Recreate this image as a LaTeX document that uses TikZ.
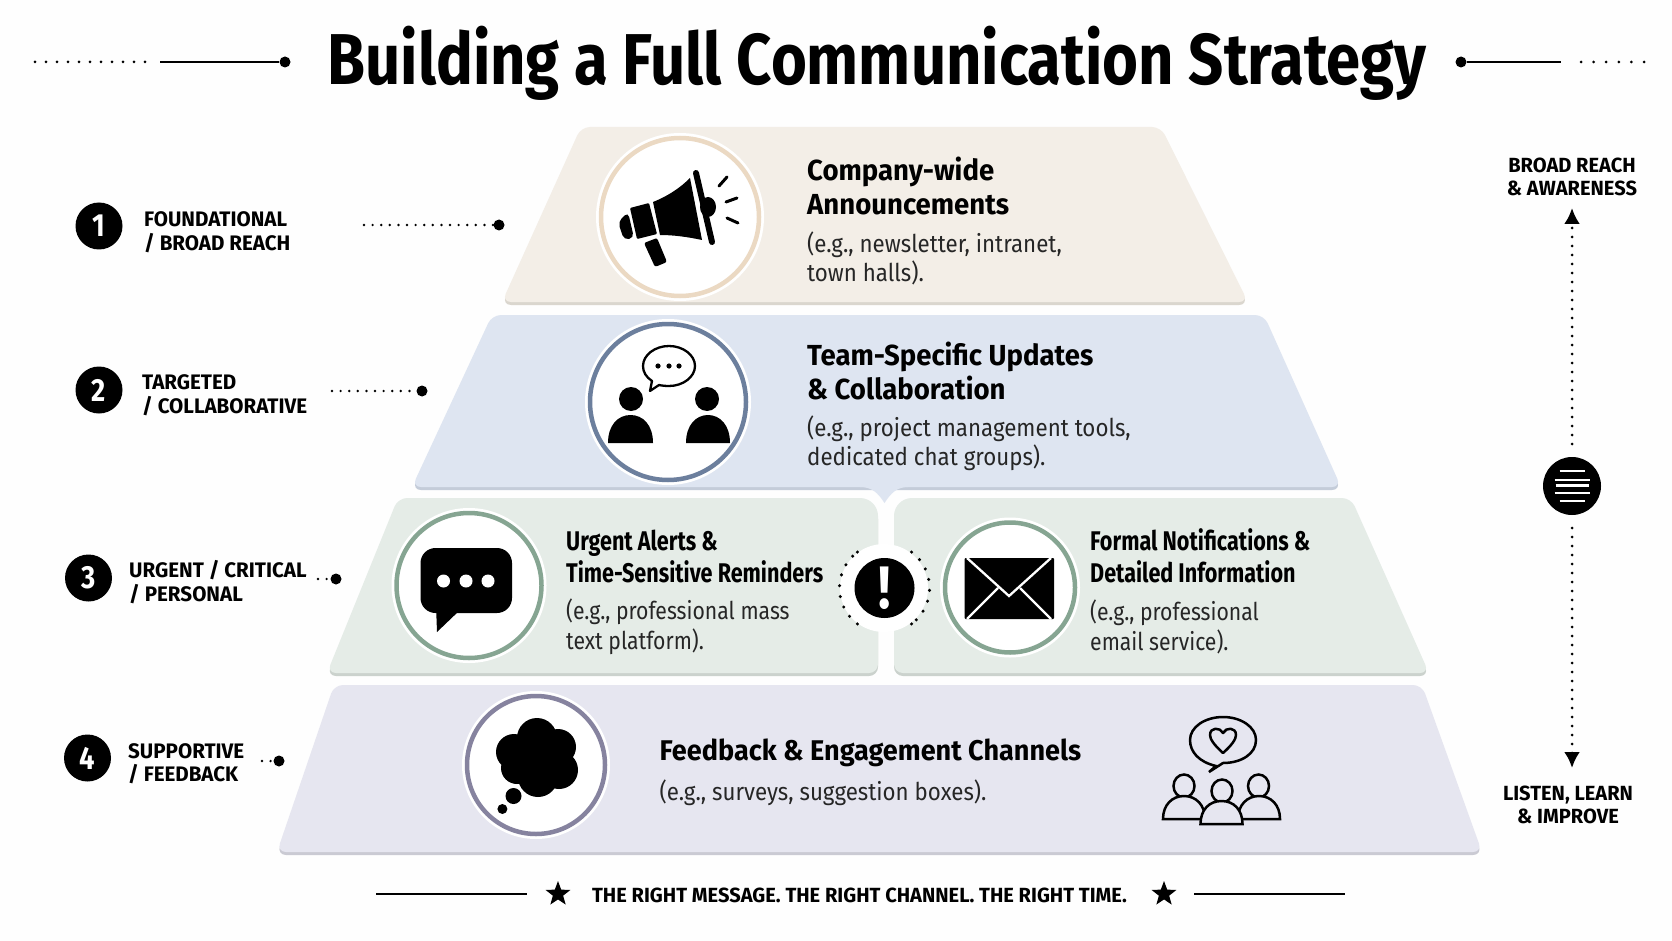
\documentclass[tikz,border=0pt]{standalone}
\usepackage{fontspec}
\setmainfont{Fira Sans}
\newfontfamily\titlefont[FakeStretch=0.855]{Fira Sans}
\newfontfamily\headfont[FakeStretch=0.95]{Fira Sans}
\newfontfamily\narrowfont[FakeStretch=0.80]{Fira Sans}
\newfontfamily\sidefont[FakeStretch=0.98]{Fira Sans}
\newfontfamily\bodyfont[FakeStretch=0.91]{Fira Sans}
\newfontfamily\bodyfontb[FakeStretch=0.865]{Fira Sans}
\usetikzlibrary{arrows.meta,shapes.geometric}
\definecolor{pagebg}{HTML}{FEFEFE}
\definecolor{tieronefill}{HTML}{F3EEE7}
\definecolor{tieroneedge}{HTML}{DAD6CE}
\definecolor{tieronering}{HTML}{EBD9C3}
\definecolor{tiertwofill}{HTML}{DEE5F1}
\definecolor{tiertwoedge}{HTML}{C4CCD9}
\definecolor{tiertworing}{HTML}{6C7F9D}
\definecolor{tierthreefill}{HTML}{E5ECE7}
\definecolor{tierthreeedge}{HTML}{CBD2CD}
\definecolor{tierthreering}{HTML}{86A592}
\definecolor{tierfourfill}{HTML}{E6E6F0}
\definecolor{tierfouredge}{HTML}{CACAD3}
\definecolor{tierfourring}{HTML}{86839F}
\tikzset{
  tier/.style={rounded corners=9pt,fill=#1fill,draw=none,preaction={draw=none,fill=#1edge,transform canvas={yshift=-3pt}}},
  iconring/.style 2 args={circle,inner sep=0pt,minimum size=#2,fill=white,draw=#1,line width=4.5pt,preaction={draw=white,line width=10pt}},
  numbadge/.style={circle,fill=black,text=white,inner sep=0pt,minimum size=47pt,font=\titlefont\bfseries\fontsize{32}{32}\selectfont},
  sidetext/.style={anchor=west,align=left,inner sep=0pt,font=\sidefont\fontsize{21}{23.5}\selectfont\bfseries},
  headtext/.style={anchor=west,align=left,inner sep=0pt,font=\headfont\fontsize{29}{34}\selectfont\bfseries},
  headthree/.style={anchor=west,align=left,inner sep=0pt,font=\narrowfont\fontsize{27}{32}\selectfont\bfseries},
  bodytext/.style={anchor=west,align=left,inner sep=0pt,text=black!85,font=\bodyfont\fontsize{24.5}{29.5}\selectfont},
  bodythree/.style={anchor=west,align=left,inner sep=0pt,text=black!85,font=\bodyfontb\fontsize{24.5}{29.5}\selectfont},
  axistext/.style={align=center,inner sep=0pt,font=\sidefont\fontsize{20.5}{22.5}\selectfont\bfseries},
  enddot/.style={circle,fill=black,inner sep=0pt,minimum size=11pt},
  leader/.style={line width=2.7pt,line cap=round,dash pattern=on 0pt off 8.6pt},
  arrow/.style={line width=3pt,line cap=round,dash pattern=on 0pt off 9pt,-{Latex[length=16pt,width=16pt]}},
  rule/.style={line width=2.4pt},
  starnode/.style={star,star points=5,star point ratio=2.4,fill=black,inner sep=0pt,minimum size=26pt}
}
\begin{document}
\begin{tikzpicture}[x=1pt,y=-1pt]
\useasboundingbox (0,0) rectangle (1672,941);
\fill[pagebg] (0,0) rectangle (1672,941);

\node[inner sep=0pt,font=\titlefont\bfseries\fontsize{72}{72}\selectfont] (title) at (877,63) {Building a Full Communication Strategy};
\node[enddot] (titleL) at (285,62) {};
\node[enddot] (titleR) at (1461,62) {};
\coordinate (titleLa) at (160,62);
\coordinate (titleRa) at (1561,62);
\coordinate (titleLb) at (35,62);
\coordinate (titleLc) at (146,62);
\coordinate (titleRb) at (1581,62);
\coordinate (titleRc) at (1646,62);
\draw[rule] (titleLa) -- (titleL);
\draw[rule] (titleR) -- (titleRa);
\draw[line width=3pt,line cap=round,dash pattern=on 0pt off 11pt] (titleLb) -- (titleLc);
\draw[line width=3pt,line cap=round,dash pattern=on 0pt off 12.6pt] (titleRb) -- (titleRc);

\path[tier=tierone] (581,127) -- (1161,127) -- (1248,302) -- (502,302) -- cycle;
\path[tier=tierthree] (398,498) [rounded corners=18pt] -- (878,498) [rounded corners=9pt] -- (878,673) -- (327,673) -- cycle;
\path[tier=tierthree] (1351,498) -- (1429,673) -- (894,673) [rounded corners=18pt] -- (894,498) [rounded corners=9pt] -- cycle;
\path[tier=tierfour] (334,685) -- (1422,685) -- (1482,852) -- (277,852) -- cycle;
\path[tier=tiertwo] (492,315) -- (1264,315) -- (1341,487) -- (412,487) -- cycle;
\path[fill=tiertwofill] (860,484) -- (908,484) -- (908,487) .. controls (897,487) and (891,493) .. (884.5,503) .. controls (878,493) and (872,487) .. (860,487) -- cycle;
\path[fill=white] (884,588) circle (44pt);

\node[iconring={tieronering}{158pt}] (circleA) at (680,217) {};
\node[iconring={tiertworing}{156pt}] (circleB) at (668,402) {};
\node[iconring={tierthreering}{145pt}] (circleC) at (469,585.5) {};
\node[iconring={tierthreering}{130pt}] (circleD) at (1010,587.5) {};
\node[iconring={tierfourring}{138pt}] (circleE) at (536,765) {};

\fill[rounded corners=5pt] (628,212) -- (634,238) -- (624,240) -- (618,222) -- cycle;
\fill[rounded corners=1pt] (630,208) -- (649,203) -- (657,234) -- (637,239) -- cycle;
\fill (653,202) .. controls (668,196) and (680,188) .. (690,178) -- (702,240) .. controls (688,237) and (674,235) .. (660,235) -- cycle;
\fill (708,207) ellipse (8pt and 10pt);
\draw[line width=6pt,line cap=round] (696,173) -- (712,242);
\fill[rounded corners=2pt] (644,243) -- (657,238) -- (667,262) -- (655,267) -- cycle;
\draw[line width=3pt,line cap=round] (719,186) -- (727,177) (726,202) -- (737,198) (727,218) -- (738,223);

\fill (631,399) circle (12pt) (707,399) circle (12pt);
\fill (608,443) .. controls (608,425) and (618,415) .. (630.5,415) .. controls (643,415) and (653,425) .. (653,443) -- cycle;
\fill (686,443) .. controls (686,425) and (696,415) .. (708,415) .. controls (720,415) and (730,425) .. (730,443) -- cycle;
\draw[line width=2.3pt,fill=white,line join=round] (652,381) .. controls (646,377) and (643,372) .. (643,366) .. controls (643,355) and (655,346) .. (669,346) .. controls (683,346) and (695,355) .. (695,366) .. controls (695,377) and (683,386) .. (669,386) .. controls (665,386) and (661,385.5) .. (659,385) -- (650,391) -- cycle;
\fill (658,366) circle (2.6pt) (669,366) circle (2.6pt) (679,366) circle (2.6pt);

\fill[rounded corners=15pt] (420.5,548) rectangle (512,613);
\fill (436,605) -- (437,632) -- (460,610) -- cycle;
\fill[white] (443.5,581) circle (6.5pt) (466,581) circle (6.5pt) (488,581) circle (6.5pt);

\fill[rounded corners=1pt] (964.5,558) rectangle (1054,619);
\draw[white,line width=2.3pt] (967,558) -- (1009,596) -- (1051,558);
\draw[white,line width=2.3pt] (967,619) -- (998,588) (1051,619) -- (1020,588);

\fill (537,738) circle (20pt) (514,752) circle (18pt) (558,747) circle (18pt) (559,770) circle (19pt) (538,777) circle (20pt) (517,768) circle (16pt) (537,760) circle (25pt);
\fill (513.5,796) circle (8pt) (502.4,809) circle (5pt);

\draw[line width=2.5pt,fill=tierfourfill] (1216,766) .. controls (1199,762) and (1190,752) .. (1190,740) .. controls (1190,727) and (1205,717) .. (1223,717) .. controls (1241,717) and (1256,727) .. (1256,740) .. controls (1256,754) and (1241,763) .. (1223,763) -- (1209,772) -- cycle;
\draw[line width=2.5pt,line join=round] (1223,753) .. controls (1214,745) and (1210,739) .. (1210,735) .. controls (1210,727) and (1220,727) .. (1223,733) .. controls (1226,727) and (1236,727) .. (1236,735) .. controls (1236,739) and (1232,745) .. (1223,753) -- cycle;
\draw[line width=2.5pt,fill=tierfourfill] (1184,786) ellipse (10.5pt and 11.5pt);
\draw[line width=2.5pt,fill=tierfourfill] (1258.5,786) ellipse (10.5pt and 11.5pt);
\draw[line width=2.5pt,fill=tierfourfill] (1163,819) .. controls (1163,805) and (1172,796) .. (1184,796) .. controls (1196,796) and (1205,805) .. (1205,819) -- cycle;
\draw[line width=2.5pt,fill=tierfourfill] (1238,819) .. controls (1238,805) and (1247,796) .. (1259,796) .. controls (1271,796) and (1280,805) .. (1280,819) -- cycle;
\draw[line width=2.5pt,fill=tierfourfill] (1222,791) ellipse (10.5pt and 11.5pt);
\draw[line width=2.5pt,fill=tierfourfill] (1200.5,824) .. controls (1200.5,810) and (1209,801) .. (1221.5,801) .. controls (1234,801) and (1242.5,810) .. (1242.5,824) -- cycle;

\node[circle,fill=black,text=white,inner sep=0pt,minimum size=60pt,font=\titlefont\bfseries\fontsize{60}{60}\selectfont] (alert) at (884.5,588) {!};
\foreach \a in {127,141,155,169,183,197,211,225,233,-53,-39,-25,-11,3,17,31,45,53}
  \fill (884.5,588) ++(\a:45pt and -45pt) circle (1.7pt);

\node[headtext] (headA) at (807,185.5) {Company-wide\\Announcements};
\node[bodytext] (bodyA) at (807,258.5) {(e.g., newsletter, intranet,\\town halls).};
\node[headtext] (headB) at (807,371) {Team-Specific Updates\\\& Collaboration};
\node[bodytext] (bodyB) at (807,443.5) {(e.g., project management tools,\\dedicated chat groups).};
\node[headthree] (headC) at (566,556) {Urgent Alerts \&\\Time-Sensitive Reminders};
\node[bodythree] (bodyC) at (566,627) {(e.g., professional mass\\text platform).};
\node[headthree] (headD) at (1090,556) {Formal Notifications \&\\Detailed Information};
\node[bodythree] (bodyD) at (1090,627) {(e.g., professional\\email service).};
\node[headtext,font=\headfont\fontsize{28.5}{34}\selectfont\bfseries] (headE) at (659.5,752.5) {Feedback \& Engagement Channels};
\node[bodytext] (bodyE) at (659.5,793) {(e.g., surveys, suggestion boxes).};

\node[numbadge] (numA) at (99,226) {1};
\node[numbadge] (numB) at (99,390) {2};
\node[numbadge] (numC) at (88.5,578) {3};
\node[numbadge] (numD) at (87.5,758) {4};
\node[sidetext] (sideA) at (144,232) {FOUNDATIONAL\\/ BROAD REACH};
\node[sidetext] (sideB) at (142,395) {TARGETED\\/ COLLABORATIVE};
\node[sidetext] (sideC) at (129,582) {URGENT / CRITICAL\\/ PERSONAL};
\node[sidetext] (sideD) at (128,763.5) {SUPPORTIVE\\/ FEEDBACK};

\node[enddot] (dotA) at (499,225) {};
\node[enddot] (dotB) at (422,391) {};
\node[enddot] (dotC) at (336,579) {};
\node[enddot] (dotD) at (279,761) {};
\coordinate (startA) at (364,225);
\coordinate (startB) at (332,391);
\coordinate (startC) at (318,579);
\coordinate (startD) at (262,761);
\draw[leader] (startA) -- (dotA);
\draw[leader] (startB) -- (dotB);
\draw[leader] (startC) -- (dotC);
\draw[leader] (startD) -- (dotD);

\node[circle,fill=black,inner sep=0pt,minimum size=58pt] (hub) at (1572,486) {};
\foreach \yy/\ww in {471/12.5,480/17.5,485.5/16.5,493/17.5,501/12.5}
  \draw[white,line width=2.8pt] (1572-\ww,\yy) -- (1572+\ww,\yy);
\coordinate (arrowT) at (1572,208);
\coordinate (arrowB) at (1572,768);
\draw[arrow] (hub) ++(0,-42) -- (arrowT);
\draw[arrow] (hub) ++(0,42) -- (arrowB);
\node[axistext] (axisT) at (1572,177) {BROAD REACH\\\& AWARENESS};
\node[axistext] (axisB) at (1568,805) {LISTEN, LEARN\\\& IMPROVE};

\node[starnode] (starL) at (558,894) {};
\node[starnode] (starR) at (1164,894) {};
\coordinate (ruleL) at (376,894);
\coordinate (ruleR) at (1345,894);
\coordinate (ruleLa) at (526.5,894);
\coordinate (ruleRa) at (1194,894);
\draw[rule] (ruleL) -- (ruleLa);
\draw[rule] (ruleRa) -- (ruleR);
\node[inner sep=0pt,font=\sidefont\bfseries\fontsize{20.5}{20.5}\selectfont] (motto) at (859.5,895) {THE RIGHT MESSAGE. THE RIGHT CHANNEL. THE RIGHT TIME.};
\end{tikzpicture}
\end{document}
